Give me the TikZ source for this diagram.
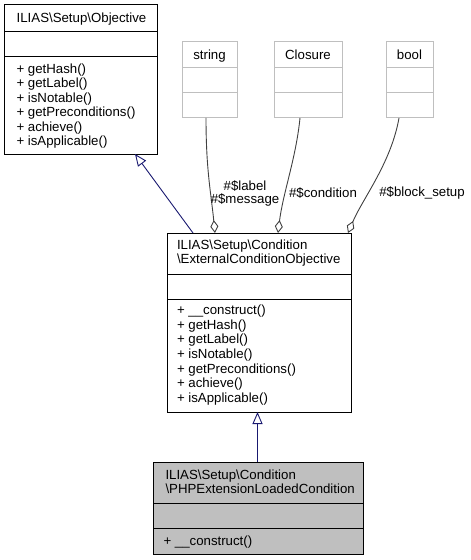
\documentclass[tikz,border=0pt]{standalone}
\usepackage{fontspec}
\setmainfont{Liberation Sans}
\usetikzlibrary{arrows.meta}
\definecolor{navy}{HTML}{191970}
\definecolor{edgegray}{HTML}{404040}
\definecolor{boxgray}{HTML}{BFBFBF}
\newcommand{\bs}{\textbackslash}
\tikzset{
  cls/.style={draw=black, line width=1bp, inner sep=0pt, outer sep=0pt, anchor=north west},
  ghost/.style={draw=boxgray, line width=1bp, inner sep=0pt, outer sep=0pt, anchor=north west},
  txt/.style={inner sep=0pt, outer sep=0pt, font=\fontsize{13.3}{14.5}\selectfont},
  inh/.style={draw=navy, line width=0.9bp, -{Triangle[open, length=12bp, width=10bp, fill=white]}},
  agg/.style={draw=edgegray, line width=0.9bp, -{Diamond[open, length=13bp, width=8bp, fill=white]}},
}
\begin{document}
\begin{tikzpicture}[x=1bp,y=-1bp]
\useasboundingbox (0,0) rectangle (471,560);
% Objective
\node[cls, minimum width=153bp, minimum height=149bp] (obj) at (4,5) {};
\draw[line width=1bp] (4,32) -- (157,32) (4,57) -- (157,57);
\node[txt, anchor=base] (objt) at (81.5,23) {ILIAS\bs Setup\bs Objective};
\foreach \t [count=\i from 0] in {getHash(),getLabel(),isNotable(),getPreconditions(),achieve(),isApplicable()}
  \node[txt, anchor=base west] (objm\i) at (16.5,73.5+14.4*\i) {+ \t};
% string
\node[ghost, minimum width=55bp, minimum height=76bp] (str) at (182,42) {};
\draw[boxgray, line width=1bp] (182,68) -- (237,68) (182,93) -- (237,93);
\node[txt, anchor=base] (strt) at (209.5,59.5) {string};
% Closure
\node[ghost, minimum width=68bp, minimum height=76bp] (clo) at (274,42) {};
\draw[boxgray, line width=1bp] (274,68) -- (342,68) (274,93) -- (342,93);
\node[txt, anchor=base] (clot) at (308,59.5) {Closure};
% bool
\node[ghost, minimum width=47bp, minimum height=76bp] (boo) at (386,42) {};
\draw[boxgray, line width=1bp] (386,68) -- (433,68) (386,93) -- (433,93);
\node[txt, anchor=base] (boot) at (409.5,59.5) {bool};
% External
\node[cls, minimum width=184bp, minimum height=179bp] (ext) at (167,233) {};
\draw[line width=1bp] (167,274) -- (351,274) (167,299) -- (351,299);
\node[txt, anchor=base west] (extt1) at (177,249.5) {ILIAS\bs Setup\bs Condition};
\node[txt, anchor=base west] (extt2) at (177,263.8) {\bs ExternalConditionObjective};
\foreach \t [count=\i from 0] in {\_\_construct(),getHash(),getLabel(),isNotable(),getPreconditions(),achieve(),isApplicable()}
  \node[txt, anchor=base west] (extm\i) at (177,314.5+14.67*\i) {+ \t};
% PHP
\node[cls, fill=boxgray, minimum width=210bp, minimum height=92bp] (php) at (153,462) {};
\draw[line width=1bp] (153,503) -- (363,503) (153,528) -- (363,528);
\node[txt, anchor=base west] (phpt1) at (165.5,479.5) {ILIAS\bs Setup\bs Condition};
\node[txt, anchor=base west] (phpt2) at (165.5,493.8) {\bs PHPExtensionLoadedCondition};
\node[txt, anchor=base west] (phpm0) at (163.5,545.5) {+ \_\_construct()};
% inheritance
\draw[inh] ([xshift=26bp]ext.north west) -- ([xshift=131bp]obj.south west);
\draw[inh] ([xshift=-0.5bp]php.north) -- ([xshift=-0.5bp]php.north |- ext.south);
% aggregations
\draw[agg] ([xshift=24bp]str.south west) .. controls +(0,52) and +(-4,-40) .. ([xshift=48bp]ext.north west);
\draw[agg] ([xshift=26bp]clo.south west) .. controls +(-4,40) and +(5,-40) .. ([xshift=111bp]ext.north west);
\draw[agg] ([xshift=13bp]boo.south west) .. controls +(-8,45) and +(15,-35) .. ([xshift=181bp]ext.north west);
% labels
\node[txt, align=center, font=\fontsize{13.3}{13.3}\selectfont] (lblm) at (245,193.5) {\#\$label\\\#\$message};
\node[txt] (lblc) at (323,193) {\#\$condition};
\node[txt] (lblb) at (422,193) {\#\$block\_setup};
\end{tikzpicture}
\end{document}
